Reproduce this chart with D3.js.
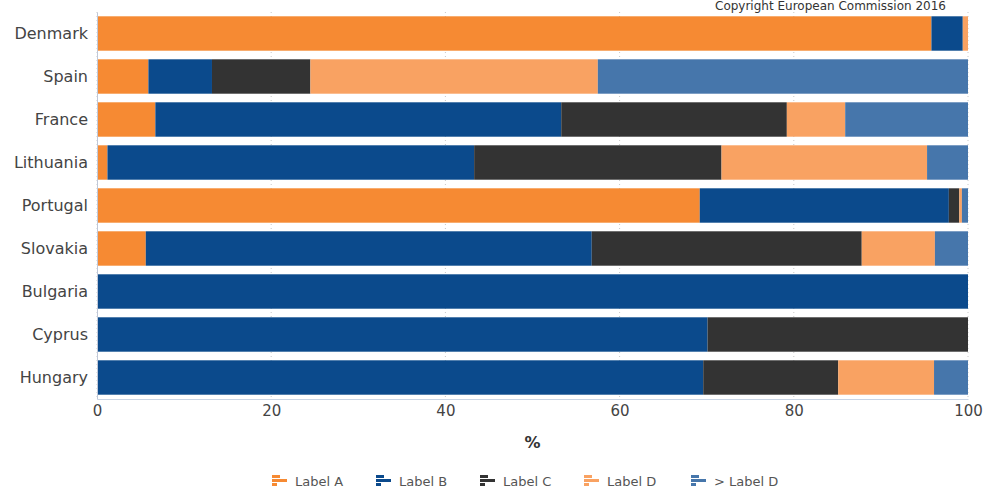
<!DOCTYPE html>
<html><head><meta charset="utf-8">
<script src="https://cdn.jsdelivr.net/npm/d3@7"></script>
<style>body{margin:0;background:#fff}svg{display:block}text{font-family:"DejaVu Sans",Verdana,sans-serif}</style>
</head><body><svg id="c" width="987" height="493"></svg>
<script>
const countries = ["Denmark","Spain","France","Lithuania","Portugal","Slovakia","Bulgaria","Cyprus","Hungary"];
const seriesNames = ["Label A","Label B","Label C","Label D","> Label D"];
const labelA = [95.8, 5.9, 6.7, 1.2, 69.2, 5.6, 0, 0, 0];
const labelB = [3.6, 7.3, 46.6, 42.1, 28.6, 51.2, 100, 70.1, 69.6];
const labelC = [0, 11.3, 25.9, 28.4, 1.2, 31.0, 0, 29.9, 15.5];
const labelD = [0.6, 33.0, 6.7, 23.6, 0.3, 8.4, 0, 0, 11.0];
const labelE = [0, 42.5, 14.1, 4.7, 0.7, 3.8, 0, 0, 3.9];
const colors = ["#f68a33","#0b4a8c","#333333","#f9a262","#4676ab"];
const xTicks = [0,20,40,60,80,100];

const svg = d3.select("#c");
const m = {l:97, r:19, t:12, b:95};
const W = 987, H = 493;
const x = d3.scaleLinear().domain([0,100]).range([m.l, W-m.r]);
const y = d3.scaleBand().domain(countries).range([m.t, 399]).paddingInner(0.2).paddingOuter(0.1);

const rows = countries.map((c,i)=>({c, A:labelA[i], B:labelB[i], C:labelC[i], D:labelD[i], E:labelE[i]}));
const stack = d3.stack().keys(["A","B","C","D","E"])(rows);

// grid
svg.append("g").selectAll("line").data(xTicks).join("line")
  .attr("x1",d=>x(d)).attr("x2",d=>x(d)).attr("y1",m.t).attr("y2",399)
  .attr("stroke","#c8c8c8").attr("stroke-dasharray","1,3");

// bars
svg.append("g").selectAll("g").data(stack).join("g").attr("fill",(d,i)=>colors[i])
  .selectAll("rect").data(d=>d).join("rect")
  .attr("x",d=>x(d[0])).attr("width",d=>Math.max(0,x(d[1])-x(d[0])))
  .attr("y",d=>y(d.data.c)).attr("height",y.bandwidth());

// y axis
const ya = svg.append("g").attr("transform",`translate(${m.l},0)`).call(d3.axisLeft(y).tickSize(0).tickPadding(9));
ya.select(".domain").attr("stroke","#c0c8d8");
ya.selectAll("text").attr("font-size","16px").attr("fill","#444");

// x axis
const xa = svg.append("g").attr("transform",`translate(0,399)`).call(d3.axisBottom(x).tickValues(xTicks).tickSize(0).tickPadding(6));
xa.select(".domain").attr("stroke","#c8d4e4");
xa.selectAll("text").attr("font-size","15px").attr("fill","#444");

svg.append("text").attr("x",(x(0)+x(100))/2).attr("y",448).attr("text-anchor","middle")
  .attr("font-size","16px").attr("font-weight","bold").attr("fill","#333").text("%");

svg.append("text").attr("x",946).attr("y",10).attr("text-anchor","end")
  .attr("font-size","12px").attr("fill","#333").text("Copyright European Commission 2016");

// legend
const legX = [272, 376, 480, 584, 691];
const lg = svg.append("g").selectAll("g").data(seriesNames).join("g")
  .attr("transform",(d,i)=>`translate(${legX[i]},481)`);
lg.append("rect").attr("x",0).attr("y",-6).attr("width",8).attr("height",3).attr("fill",(d,i)=>colors[i]);
lg.append("rect").attr("x",0).attr("y",-2).attr("width",15).attr("height",3).attr("fill",(d,i)=>colors[i]);
lg.append("rect").attr("x",0).attr("y",2).attr("width",5).attr("height",3).attr("fill",(d,i)=>colors[i]);
lg.append("text").attr("x",23).attr("y",5).attr("font-size","13px").attr("fill","#555").text(d=>d);
</script></body></html>
